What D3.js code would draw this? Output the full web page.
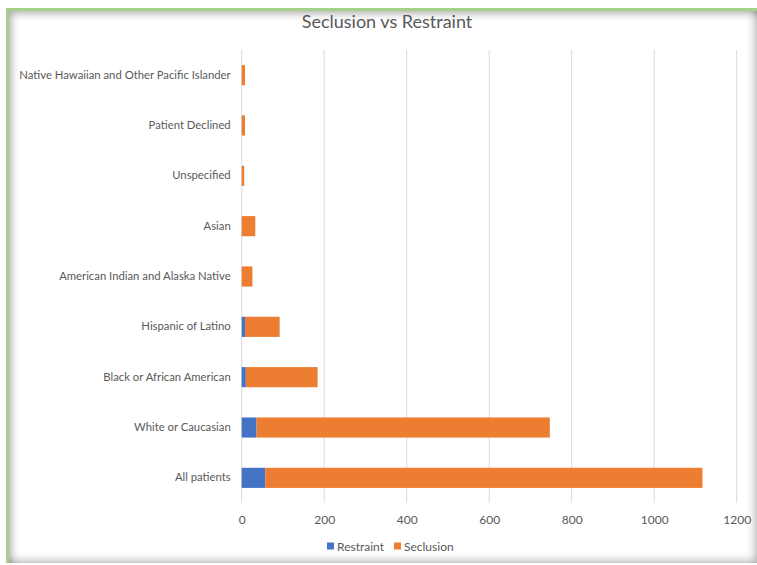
<!DOCTYPE html>
<html lang="en">
<head>
    <meta charset="UTF-8">
    <title>Seclusion vs Restraint</title>
    <script src="https://d3js.org/d3.v7.min.js"></script>
    <style>
        body {
            margin: 0;
            background: #fff;
        }

        #frame {
            position: absolute;
            left: 6px;
            top: 8px;
            width: 748px;
            height: 552px;
            border-top: 3px solid #a6d08c;
            border-left: 3px solid #a6d08c;
            box-shadow: inset 7px 7px 9px -5px rgba(0, 0, 0, 0.35),
                        inset -7px -7px 9px -5px rgba(0, 0, 0, 0.3);
        }

        #chart {
            position: absolute;
            left: 0;
            top: 0;
        }

        text {
            font-family: Lato, "Open Sans", sans-serif;
            fill: #595959;
        }
    </style>
</head>
<body>
    <div id="frame"></div>
    <div id="chart"></div>

    <script>
        // Data (bottom to top as drawn in the reference)
        const categories = [
            "All patients",
            "White or Caucasian",
            "Black or African American",
            "Hispanic of Latino",
            "American Indian and Alaska Native",
            "Asian",
            "Unspecified",
            "Patient Declined",
            "Native Hawaiian and Other Pacific Islander"
        ];
        const restraint = [57, 36, 10, 8, 0, 0, 0, 0, 0];
        const seclusion = [1060, 711, 174, 84, 26, 33, 6, 8, 8];
        const xTicks = [0, 200, 400, 600, 800, 1000, 1200];
        const seriesNames = ["Restraint", "Seclusion"];
        const colors = ["#4472c4", "#ed7d31"];

        const W = 757, H = 565;
        const margin = { top: 50, right: 20, bottom: 62, left: 241.7 };
        const width = 736.7 - margin.left,
              height = H - margin.top - margin.bottom;

        const svg = d3.select("#chart")
            .append("svg")
            .attr("width", W)
            .attr("height", H);

        // Title
        svg.append("text")
            .attr("x", 387)
            .attr("y", 28)
            .attr("text-anchor", "middle")
            .style("font-size", "18px")
            .text("Seclusion vs Restraint");

        const g = svg.append("g")
            .attr("transform", `translate(${margin.left},${margin.top})`);

        const table = categories.map((c, i) => ({
            cat: c, Restraint: restraint[i], Seclusion: seclusion[i]
        }));

        const x = d3.scaleLinear()
            .domain([0, 1200])
            .range([0, width]);

        const y = d3.scaleBand()
            .domain(categories.slice().reverse())
            .range([0, height])
            .paddingInner(0.6)
            .paddingOuter(0.3);

        const color = d3.scaleOrdinal()
            .domain(seriesNames)
            .range(colors);

        // Gridlines
        g.append("g")
            .selectAll("line")
            .data(xTicks)
            .enter()
            .append("line")
            .attr("x1", d => x(d))
            .attr("x2", d => x(d))
            .attr("y1", 0)
            .attr("y2", height)
            .attr("stroke", "#d9d9d9")
            .attr("stroke-width", 1);

        // X axis labels
        const xAxis = g.append("g")
            .attr("transform", `translate(0,${height})`)
            .call(d3.axisBottom(x).tickValues(xTicks).tickFormat(d3.format("d"))
                .tickSize(0).tickPadding(12));
        xAxis.select(".domain").remove();
        xAxis.selectAll("text")
            .style("font-size", "12px")
            .style("font-family", "Lato, 'Open Sans', sans-serif")
            .attr("fill", "#595959");

        // Y axis labels
        const yAxis = g.append("g")
            .call(d3.axisLeft(y).tickSize(0).tickPadding(11));
        yAxis.select(".domain").remove();
        yAxis.selectAll("text")
            .style("font-size", "11.3px")
            .style("font-family", "Lato, 'Open Sans', sans-serif")
            .attr("fill", "#595959");

        // Bars
        const stacked = d3.stack().keys(seriesNames)(table);
        g.selectAll("g.layer")
            .data(stacked)
            .enter()
            .append("g")
            .attr("class", "layer")
            .attr("fill", d => color(d.key))
            .selectAll("rect")
            .data(d => d)
            .enter()
            .append("rect")
            .attr("x", d => x(d[0]))
            .attr("y", d => y(d.data.cat))
            .attr("width", d => x(d[1]) - x(d[0]))
            .attr("height", y.bandwidth());

        // Legend
        const legend = svg.append("g")
            .attr("transform", "translate(327,546)");
        const offsets = [0, 67];
        seriesNames.forEach((s, i) => {
            legend.append("rect")
                .attr("x", offsets[i])
                .attr("y", -3.5)
                .attr("width", 7)
                .attr("height", 7)
                .attr("fill", color(s));
            legend.append("text")
                .attr("x", offsets[i] + 10)
                .attr("y", 4.5)
                .style("font-size", "12px")
                .text(s);
        });
    </script>
</body>
</html>
